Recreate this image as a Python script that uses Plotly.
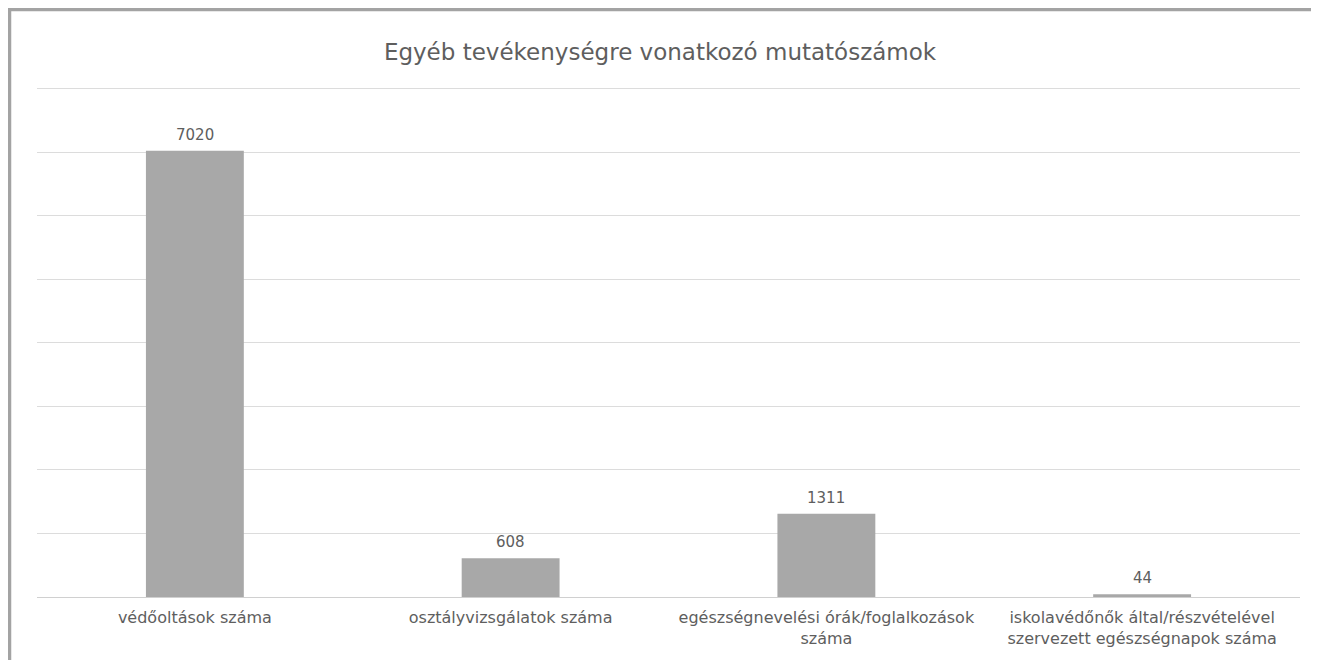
import plotly.graph_objects as go

categories = [
    "védőoltások száma",
    "osztályvizsgálatok száma",
    "egészségnevelési órák/foglalkozások<br>száma",
    "iskolavédőnők által/részvételével<br>szervezett egészségnapok száma",
]
values = [7020, 608, 1311, 44]
title_text = "Egyéb tevékenységre vonatkozó mutatószámok"

W, H = 1319, 660
ml, mr, mt, mb = 29, 27, 78, 71
pw = W - ml - mr
ph = H - mt - mb

font_family = "'DejaVu Sans', sans-serif"
text_color = "#5E5E5E"

fig = go.Figure()
fig.add_trace(go.Bar(
    x=categories, y=values,
    marker=dict(color="#A8A8A8", line=dict(width=0)),
    width=0.31,
    hoverinfo="x+y",
))

for c, v in zip(categories, values):
    fig.add_annotation(x=c, y=v, text=str(v), showarrow=False,
                       yanchor="bottom", yshift=5,
                       font=dict(family=font_family, size=15, color=text_color))

# outer frame
fig.add_shape(type="rect", xref="paper", yref="paper",
              x0=(1.5 - ml) / pw, x1=(1308 - ml) / pw,
              y0=(H - mb - 668) / ph, y1=(H - mb - 1.5) / ph,
              line=dict(color="#A3A3A3", width=3.5), fillcolor="rgba(0,0,0,0)", layer="below")

fig.update_layout(
    width=W, height=H,
    margin=dict(l=ml, r=mr, t=mt, b=mb),
    paper_bgcolor="white", plot_bgcolor="white",
    title=dict(text=title_text, x=(660 - 8) / W, xanchor="center", y=1 - 44 / H, yanchor="middle",
               font=dict(family=font_family, size=23, color=text_color)),
    showlegend=False,
    xaxis=dict(showgrid=False, showline=False, zeroline=False,
               ticks="outside", ticklen=6, tickcolor="rgba(0,0,0,0)",
               tickfont=dict(family=font_family, size=16, color=text_color)),
    yaxis=dict(range=[0, 8040], dtick=1000, showgrid=True, gridcolor="#DCDCDC", gridwidth=1,
               zeroline=True, zerolinecolor="#D0D0D0", zerolinewidth=1,
               showticklabels=False, showline=False),
)

fig.write_html("out.html")
